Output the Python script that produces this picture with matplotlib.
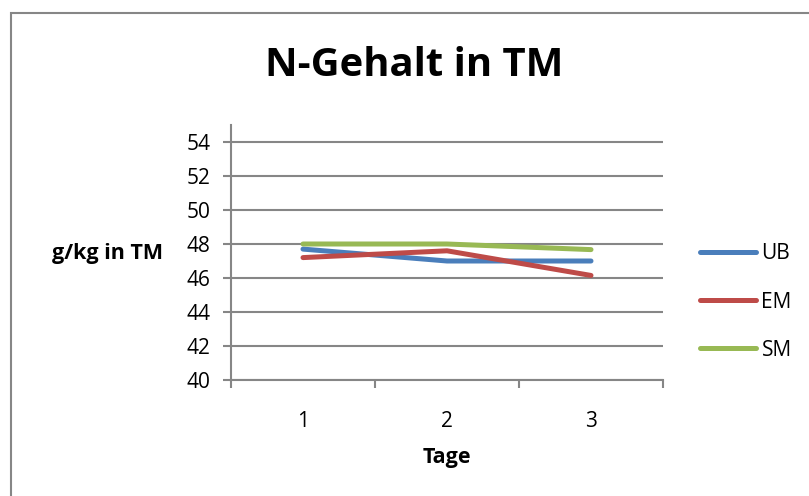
import matplotlib
matplotlib.use("Agg")
import matplotlib.pyplot as plt
from matplotlib.patches import Rectangle

plt.rcParams['font.family'] = ['Open Sans', 'DejaVu Sans']

days = [1, 2, 3]
day_labels = ["1", "2", "3"]
ub = [47.7, 47.0, 47.0]
em = [47.2, 47.6, 46.15]
sm = [48.0, 48.0, 47.67]
series_names = ["UB", "EM", "SM"]
colors = ["#4A7EBB", "#BE4B48", "#98B954"]
yticks = [40, 42, 44, 46, 48, 50, 52, 54]

W, H = 809, 496
fig = plt.figure(figsize=(W / 100, H / 100), dpi=100)

# outer chart frame (cut off on right and bottom)
fig.patches.append(Rectangle((11 / W, -0.05), 1.0, (H - 13) / H + 0.05,
                             transform=fig.transFigure, fill=False,
                             edgecolor="#868686", linewidth=1.5))

ax = fig.add_axes([231 / W, (H - 380) / H, (663 - 231) / W, (380 - 125) / H])
gray = "#868686"
for s, c, name in zip([ub, em, sm], colors, series_names):
    ax.plot(days, s, color=c, linewidth=3.6, label=name, solid_capstyle="round")

ax.set_xlim(0.5, 3.5)
ax.set_ylim(40, 55)
ax.set_yticks(yticks)
ax.set_yticklabels([str(v) for v in yticks])
ax.set_xticks(days)
ax.set_xticklabels(day_labels)
ax.set_xticks([0.5, 1.5, 2.5, 3.5], minor=True)
ax.tick_params(axis="x", which="major", length=0, labelsize=15, pad=22)
ax.tick_params(axis="x", which="minor", length=6, width=1.5, color=gray, direction="out")
ax.tick_params(axis="y", which="major", length=6, width=1.5, color=gray, labelsize=15, pad=9)
ax.grid(axis="y", color=gray, linewidth=1.5)
ax.set_axisbelow(True)
for sp in ["top", "right"]:
    ax.spines[sp].set_visible(False)
for sp in ["left", "bottom"]:
    ax.spines[sp].set_color(gray)
    ax.spines[sp].set_linewidth(1.5)

fig.text(414 / W, 1 - 66 / H, "N-Gehalt in TM", ha="center", va="center",
         fontsize=28.8, fontweight="bold")
fig.text(107 / W, 1 - 253 / H, "g/kg in TM", ha="center", va="center",
         fontsize=15.5, fontweight="bold")
fig.text(447 / W, 1 - 458 / H, "Tage", ha="center", va="center",
         fontsize=15.5, fontweight="bold")

leg = ax.legend(loc="center left", bbox_to_anchor=(700 / W, 1 - 302 / H),
                bbox_transform=fig.transFigure, frameon=False, fontsize=15,
                handlelength=2.7, handletextpad=0.25, labelspacing=1.3,
                borderpad=0, borderaxespad=0)

fig.savefig("out.png", dpi=100)
